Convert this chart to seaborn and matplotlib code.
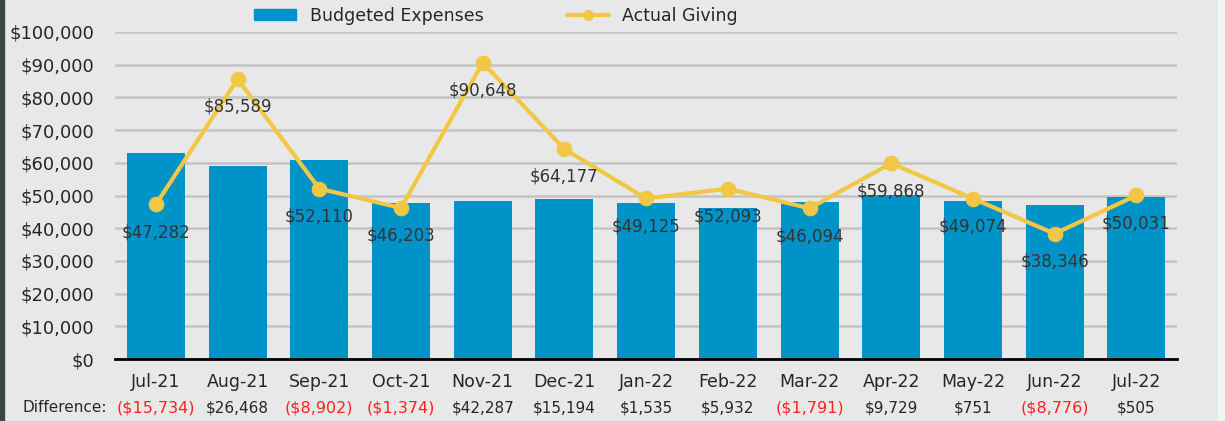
import numpy as np
import pandas as pd
import matplotlib
matplotlib.use("Agg")
import matplotlib.pyplot as plt
import seaborn as sns
from matplotlib.patches import Patch, Rectangle
from matplotlib.lines import Line2D
from matplotlib.ticker import FuncFormatter

# ==================== data ====================
months = ["Jul-21", "Aug-21", "Sep-21", "Oct-21", "Nov-21", "Dec-21", "Jan-22",
          "Feb-22", "Mar-22", "Apr-22", "May-22", "Jun-22", "Jul-22"]
budgeted = [63016, 59121, 61012, 47577, 48361, 48983, 47590,
            46161, 47885, 50139, 48323, 47122, 49526]
actual = [47282, 85589, 52110, 46203, 90648, 64177, 49125,
          52093, 46094, 59868, 49074, 38346, 50031]
difference = [-15734, 26468, -8902, -1374, 42287, 15194, 1535,
              5932, -1791, 9729, 751, -8776, 505]

BAR_C = "#0093c8"
LINE_C = "#f2c744"
BG = "#e8e8e8"
TXT = "#262626"

df = pd.DataFrame({"month": months, "budgeted": budgeted, "actual": actual})

sns.set_theme(style="white")
plt.rcParams["font.family"] = ["DejaVu Sans"]

fig = plt.figure(figsize=(12.25, 4.21), dpi=100, facecolor=BG)
ax = fig.add_axes([0.0939, 0.147, 0.961 - 0.0939, 0.924 - 0.147])
ax.set_facecolor(BG)

sns.barplot(data=df, x="month", y="budgeted", color=BAR_C, width=0.71,
            saturation=1, linewidth=0, ax=ax, zorder=2)
sns.lineplot(data=df, x="month", y="actual", color=LINE_C, linewidth=3,
             marker="o", markersize=10.5, markeredgecolor=LINE_C, ax=ax,
             zorder=4, clip_on=False)

ax.set_ylim(0, 100000)
ax.set_xlim(-0.5, len(months) - 0.5)
ax.set_yticks(range(0, 100001, 10000))
ax.yaxis.set_major_formatter(FuncFormatter(lambda v, p: f"${v:,.0f}"))
ax.grid(axis="y", color="#c4c4c4", linewidth=1.8, zorder=0)
ax.set_axisbelow(True)
for s in ["top", "right", "left"]:
    ax.spines[s].set_visible(False)
ax.spines["bottom"].set_color("black")
ax.spines["bottom"].set_linewidth(2)
ax.tick_params(axis="y", labelsize=13, colors=TXT, length=0, pad=15)
ax.tick_params(axis="x", labelsize=12.5, colors=TXT, length=0, pad=10)
ax.set_xlabel("")
ax.set_ylabel("")

# data labels under each point
for i, v in enumerate(actual):
    ax.annotate(f"${v:,}", (i, v), xytext=(0, -20), textcoords="offset points",
                ha="center", va="center", fontsize=12, color="#333333", zorder=5)

# difference row
fig.text(0.018, 0.031, "Difference:", fontsize=11, color=TXT, ha="left", va="center")
for i, d in enumerate(difference):
    xf = fig.transFigure.inverted().transform(ax.transData.transform((i, 0)))[0]
    if d < 0:
        fig.text(xf, 0.031, f"(${abs(d):,})", fontsize=11.5, color="#ff2020",
                 ha="center", va="center")
    else:
        fig.text(xf, 0.031, f"${d:,}", fontsize=11, color=TXT,
                 ha="center", va="center")

handles = [Patch(facecolor=BAR_C, edgecolor=BAR_C),
           Line2D([0], [0], color=LINE_C, lw=3, marker="o", markersize=7)]
fig.legend(handles, ["Budgeted Expenses", "Actual Giving"], ncol=2,
           loc="center", bbox_to_anchor=(0.405, 0.962), frameon=False,
           fontsize=12.5, handlelength=2.4, handleheight=0.6,
           columnspacing=4.8, labelcolor=TXT)

# page edges
fig.patches.append(Rectangle((0, 0), 4 / 1225, 1, transform=fig.transFigure,
                             color="#3b4547", zorder=-1))
fig.patches.append(Rectangle((1218 / 1225, 0), 7 / 1225, 1, transform=fig.transFigure,
                             color="#f4f4f4", zorder=-1))

fig.savefig("out.png", dpi=100, facecolor=BG)
